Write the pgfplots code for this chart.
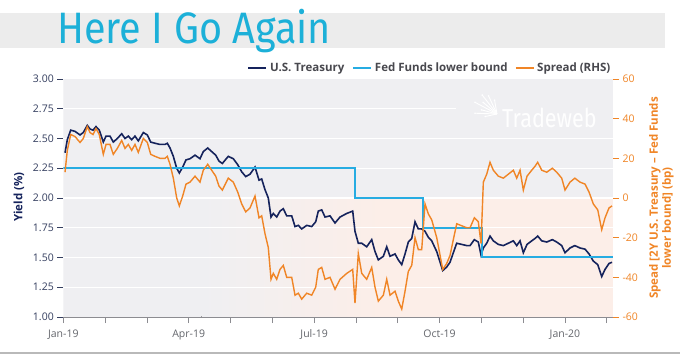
\documentclass[border=0pt]{standalone}
\usepackage{pgfplots}
\pgfplotsset{compat=1.18}
\usepackage{fontspec}
\setmainfont{Open Sans}
\newfontfamily\titlefont{Fira Sans}
\definecolor{navy}{RGB}{21,35,92}
\definecolor{ffcyan}{RGB}{38,172,226}
\definecolor{sprorange}{RGB}{240,133,38}
\definecolor{titlecyan}{RGB}{28,176,216}
\definecolor{bggrey}{RGB}{239,239,242}
\definecolor{bgpink}{RGB}{252,238,232}
\definecolor{bandgrey}{RGB}{236,236,236}
\definecolor{tickgrey}{RGB}{140,140,145}
\definecolor{ylabcol}{RGB}{52,62,95}
\definecolor{xlabcol}{RGB}{100,102,108}
\definecolor{legtext}{RGB}{72,72,78}

\pgfplotstableread{
x y
0.041 2.38
0.096 2.49
0.177 2.57
0.280 2.56
0.400 2.53
0.478 2.55
0.574 2.61
0.639 2.58
0.711 2.57
0.782 2.60
0.861 2.57
0.957 2.47
1.022 2.52
1.117 2.52
1.196 2.47
1.292 2.50
1.397 2.54
1.476 2.50
1.555 2.52
1.636 2.49
1.715 2.52
1.794 2.48
1.914 2.55
2.010 2.53
2.091 2.47
2.194 2.46
2.313 2.45
2.433 2.45
2.488 2.46
2.553 2.42
2.632 2.35
2.713 2.25
2.775 2.21
2.856 2.26
2.935 2.32
3.031 2.33
3.151 2.36
3.270 2.33
3.349 2.39
3.455 2.42
3.550 2.39
3.646 2.36
3.725 2.31
3.804 2.29
3.947 2.35
4.067 2.33
4.172 2.28
4.268 2.22
4.364 2.18
4.467 2.20
4.586 2.26
4.682 2.15
4.746 2.16
4.825 2.07
4.904 2.00
4.969 1.84
5.024 1.87
5.105 1.84
5.184 1.89
5.263 1.91
5.344 1.85
5.464 1.85
5.543 1.76
5.622 1.77
5.703 1.74
5.823 1.77
5.943 1.76
6.038 1.80
6.100 1.89
6.182 1.90
6.261 1.84
6.380 1.85
6.500 1.79
6.620 1.84
6.780 1.87
6.923 1.89
6.978 1.72
7.057 1.62
7.139 1.62
7.258 1.59
7.378 1.65
7.457 1.55
7.536 1.48
7.656 1.51
7.737 1.59
7.816 1.51
7.935 1.53
8.014 1.48
8.096 1.44
8.175 1.53
8.254 1.63
8.335 1.66
8.414 1.80
8.493 1.74
8.574 1.74
8.653 1.72
8.732 1.67
8.813 1.64
8.933 1.55
9.077 1.39
9.172 1.42
9.251 1.46
9.330 1.54
9.411 1.62
9.531 1.61
9.651 1.60
9.730 1.60
9.833 1.65
9.928 1.63
9.993 1.52
10.048 1.58
10.129 1.62
10.208 1.68
10.287 1.64
10.407 1.61
10.526 1.60
10.646 1.62
10.766 1.64
10.847 1.60
10.926 1.64
11.005 1.54
11.093 1.61
11.206 1.64
11.285 1.66
11.349 1.68
11.445 1.64
11.565 1.63
11.699 1.65
11.804 1.63
11.923 1.60
12.002 1.54
12.122 1.58
12.237 1.60
12.361 1.58
12.481 1.57
12.577 1.53
12.679 1.47
12.785 1.44
12.880 1.34
12.959 1.40
13.055 1.45
13.127 1.46
}\treasury

\pgfplotstableread{
x y
0.041 13
0.096 24
0.177 32
0.280 31
0.400 28
0.478 30
0.574 36
0.639 33
0.711 32
0.782 35
0.861 32
0.957 22
1.022 27
1.117 27
1.196 22
1.292 25
1.397 29
1.476 25
1.555 27
1.636 24
1.715 27
1.794 23
1.914 30
2.010 28
2.091 22
2.194 21
2.313 20
2.433 20
2.488 21
2.553 17
2.632 10
2.713 0
2.775 -4
2.856 1
2.935 7
3.031 8
3.151 11
3.270 8
3.349 14
3.455 17
3.550 14
3.646 11
3.725 6
3.804 4
3.947 10
4.067 8
4.172 3
4.268 -3
4.364 -7
4.467 -5
4.586 1
4.682 -10
4.746 -9
4.825 -18
4.904 -25
4.969 -41
5.024 -38
5.105 -41
5.184 -36
5.263 -34
5.344 -40
5.464 -40
5.543 -49
5.622 -48
5.703 -51
5.823 -48
5.943 -49
6.038 -45
6.100 -36
6.182 -35
6.261 -41
6.380 -40
6.500 -46
6.620 -41
6.780 -38
6.923 -36
6.978 -53
7.057 -28
7.139 -38
7.258 -41
7.378 -35
7.457 -45
7.536 -52
7.656 -49
7.737 -41
7.816 -49
7.935 -47
8.014 -52
8.096 -56
8.175 -47
8.254 -37
8.335 -34
8.414 -20
8.493 -26
8.574 -26
8.653 -3
8.732 -8
8.813 -11
8.933 -20
9.077 -36
9.172 -33
9.251 -29
9.330 -21
9.411 -13
9.531 -14
9.651 -15
9.730 -15
9.833 -10
9.928 -12
9.993 -23
10.048 8
10.129 12
10.208 18
10.287 14
10.407 11
10.526 10
10.646 12
10.766 14
10.847 10
10.926 14
11.005 4
11.093 11
11.206 14
11.285 16
11.349 18
11.445 14
11.565 13
11.699 15
11.804 13
11.923 10
12.002 4
12.122 8
12.237 10
12.361 8
12.481 7
12.577 3
12.679 -3
12.785 -6
12.880 -16
12.959 -10
13.055 -5
13.127 -4
}\spread

\pgfplotstableread{
x y
0 2.25
6.985 2.25
6.985 2.00
8.61 2.00
8.61 1.75
10.01 1.75
10.01 1.50
13.14 1.50
}\fedfunds

\begin{document}
\begin{tikzpicture}
\useasboundingbox (0bp,0bp) rectangle (680bp,355bp);
\fill[white] (0bp,0bp) rectangle (680bp,355bp);
\fill[bandgrey] (0bp,307bp) rectangle (665bp,342bp);
\node[anchor=base west, inner sep=0pt, text=titlecyan] at (57bp,311bp)
  {\scalebox{0.9}[1]{\titlefont\fontsize{44bp}{44bp}\selectfont Here I Go Again}};
\draw[gray!55, line width=1.2bp] (0bp,2bp) -- (680bp,2bp);

\begin{axis}[
  at={(63.3bp,38bp)}, anchor=south west,
  width=549.7bp, height=238bp, scale only axis,
  xmin=0, xmax=13.15, ymin=1, ymax=3,
  axis x line*=bottom, axis y line*=left,
  x axis line style={tickgrey, line width=0.8bp},
  y axis line style={draw=none},
  tick align=outside, major tick length=6bp,
  xtick={0,1,...,13},
  xticklabels={Jan-19,,,Apr-19,,,Jul-19,,,Oct-19,,,Jan-20,},
  xtick style={tickgrey, line width=0.8bp},
  ytick={1,1.25,...,3},
  ytick style={ylabcol, line width=0.8bp},
  xticklabel style={text=xlabcol, font=\fontsize{10.5bp}{12bp}\selectfont, yshift=-3bp},
  yticklabel style={text=ylabcol, font=\fontsize{10.5bp}{12bp}\selectfont,
     /pgf/number format/.cd, fixed, fixed zerofill, precision=2},
  /pgf/number format/assume math mode=true,
]
\fill[bggrey] (axis cs:0,1) rectangle (axis cs:13.15,3);
\fill[left color=bggrey, right color=bgpink] (axis cs:3.3,1) rectangle (axis cs:7.6,2);
\fill[bgpink] (axis cs:7.59,1) rectangle (axis cs:13.15,2);
\draw[white, line width=1.1bp] (axis cs:0,1.25) -- (axis cs:13.15,1.25);
\draw[white, line width=1.1bp] (axis cs:0,1.5) -- (axis cs:13.15,1.5);
\draw[white, line width=1.1bp] (axis cs:0,1.75) -- (axis cs:13.15,1.75);
\draw[white, line width=1.1bp] (axis cs:0,2) -- (axis cs:13.15,2);
\draw[white, line width=1.1bp] (axis cs:0,2.25) -- (axis cs:13.15,2.25);
\draw[white, line width=1.1bp] (axis cs:0,2.5) -- (axis cs:13.15,2.5);
\draw[white, line width=1.1bp] (axis cs:0,2.75) -- (axis cs:13.15,2.75);
\fill[bggrey] (axis cs:9.4,2.58) rectangle (axis cs:13.15,2.93);
\addplot[navy, line width=1.6bp, no marks] table[x=x,y=y] {\treasury};
\addplot[draw=ffcyan, color=ffcyan, line width=2bp, no marks] table[x=x,y=y] {\fedfunds};
\end{axis}

\begin{axis}[
  at={(63.3bp,38bp)}, anchor=south west,
  width=549.7bp, height=238bp, scale only axis,
  xmin=0, xmax=13.15, ymin=-60, ymax=60,
  axis x line=none, axis y line*=right,
  y axis line style={draw=none},
  tick align=outside, major tick length=6bp,
  ytick={-60,-40,...,60},
  ytick style={sprorange, line width=0.8bp},
  yticklabel style={text=sprorange, font=\fontsize{10.5bp}{12bp}\selectfont},
  /pgf/number format/assume math mode=true,
  legend style={at={(1,1)}, anchor=south east, draw=none, fill=none,
     font=\bfseries\fontsize{11.5bp}{12bp}\selectfont, text=legtext,
     inner sep=0pt, yshift=3bp,
     nodes={inner sep=2.5bp},
     /tikz/every even column/.append style={column sep=5bp}},
  legend columns=-1,
  legend image code/.code={\draw[#1] (0bp,0bp) -- (18bp,0bp);},
]
\addlegendimage{navy, line width=2.6bp}
\addlegendentry{U.S. Treasury}
\addlegendimage{ffcyan, line width=2.6bp}
\addlegendentry{Fed Funds lower bound}
\addplot[sprorange, line width=1.4bp, no marks] table[x=x,y=y] {\spread};
\addlegendentry{Spread (RHS)}
\end{axis}

\node[rotate=90, text=navy, font=\bfseries\fontsize{11.5bp}{12bp}\selectfont] at (19bp,158bp) {Yield (\%)};
\node[rotate=90, text=sprorange, font=\bfseries\fontsize{11.5bp}{12bp}\selectfont] at (655bp,157bp) {Spead [2Y U.S. Treasury – Fed Funds};
\node[rotate=90, text=sprorange, font=\bfseries\fontsize{11.5bp}{12bp}\selectfont] at (668bp,137bp) {lower bound] (bp)};

\node[anchor=base west, inner sep=0pt, text=white, opacity=0.95] at (502bp,227bp)
  {\scalebox{0.83}[1]{\titlefont\fontsize{26bp}{26bp}\selectfont Tradeweb}};
\foreach \a/\l in {100/14,115/20,128/24,140/18,152/25,165/16,178/22,192/12}{
  \draw[white, line width=0.9bp] (497bp,241bp) -- ++(\a:\l bp);
  \fill[white] (497bp,241bp) ++(\a:\l bp) circle (0.9bp);
}
\end{tikzpicture}
\end{document}
